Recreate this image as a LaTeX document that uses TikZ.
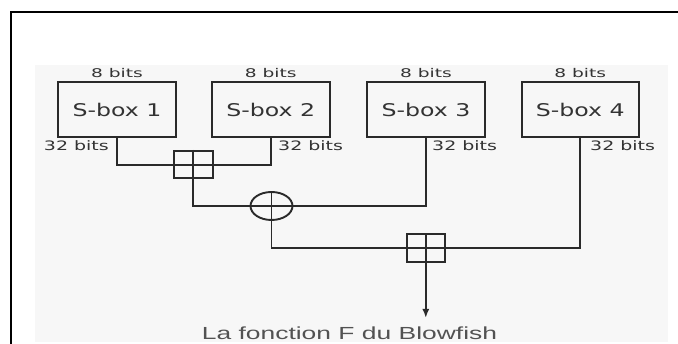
\documentclass[tikz,border=0pt]{standalone}
\usepackage{fontspec}
\setmainfont{DejaVu Sans}
\newfontfamily\capfont{Liberation Sans}
\usetikzlibrary{shapes.geometric,arrows.meta}
\definecolor{panel}{HTML}{F7F7F7}
\definecolor{ink}{HTML}{2A2A2A}
\definecolor{txt}{HTML}{333333}
\newcommand{\hstr}[3]{\scalebox{#2}[1]{\fontsize{#1}{#1}\selectfont #3}}
\begin{document}
\begin{tikzpicture}[x=1pt,y=-1pt,
  sbox/.style={draw=ink,line width=2pt,minimum width=117.5pt,minimum height=55pt,inner sep=0pt,text=txt},
  addbox/.style={draw=ink,line width=1.9pt,minimum width=38.5pt,minimum height=27.5pt,inner sep=0pt},
  xorbox/.style={draw=ink,line width=1.9pt,ellipse,minimum width=42pt,minimum height=28pt,inner sep=0pt},
  wire/.style={draw=ink,line width=1.9pt},
  lbl/.style={text=txt,inner sep=0pt}]
\useasboundingbox (0,0) rectangle (678,344);
\fill[white] (0,0) rectangle (678,344);
\fill[panel] (35,65) rectangle (668,342);
\draw[black,line width=2.2pt] (10.7,350) -- (10.7,12) -- (690,12);
% S-boxes
\node[sbox] (b1) at (117,109.5) {\hstr{17.5pt}{1.35}{S-box 1}};
\node[sbox] (b2) at (270.75,109.5) {\hstr{17.5pt}{1.35}{S-box 2}};
\node[sbox] (b3) at (426,109.5) {\hstr{17.5pt}{1.35}{S-box 3}};
\node[sbox] (b4) at (580.25,109.5) {\hstr{17.5pt}{1.35}{S-box 4}};
% input labels
\node[lbl,anchor=base] (i1) at (117,77.7) {\hstr{12pt}{1.55}{8 bits}};
\node[lbl,anchor=base] (i2) at (270.75,77.7) {\hstr{12pt}{1.55}{8 bits}};
\node[lbl,anchor=base] (i3) at (426,77.7) {\hstr{12pt}{1.55}{8 bits}};
\node[lbl,anchor=base] (i4) at (580.25,77.7) {\hstr{12pt}{1.55}{8 bits}};
% output labels
\node[lbl,anchor=base east] (o1) at (109,151) {\hstr{13pt}{1.46}{32 bits}};
\node[lbl,anchor=base west] (o2) at (278,151) {\hstr{13pt}{1.46}{32 bits}};
\node[lbl,anchor=base west] (o3) at (432,151) {\hstr{13pt}{1.46}{32 bits}};
\node[lbl,anchor=base west] (o4) at (590,151) {\hstr{13pt}{1.46}{32 bits}};
% operators
\node[addbox] (p1) at (193.3,164.7) {};
\node[xorbox] (x1) at (271.5,206) {};
\node[addbox] (p2) at (425.8,248) {};
\coordinate (out) at (425.8,318);
% wires
\draw[wire] (b1.south) |- (p1.center) -| (b2.south);
\draw[wire] (p1.north) |- (x1.center) -| (b3.south);
\draw[wire] (x1.north) |- (p2.center) -| (b4.south);
\draw[wire,-{Latex[length=9pt,width=7pt]}] (p2.north) -- (out);
% caption
\node[lbl,anchor=base,text=txt!85!white] (cap) at (349.5,339.3) {\capfont\hstr{17.5pt}{1.51}{La fonction F du Blowfish}};
\end{tikzpicture}
\end{document}
